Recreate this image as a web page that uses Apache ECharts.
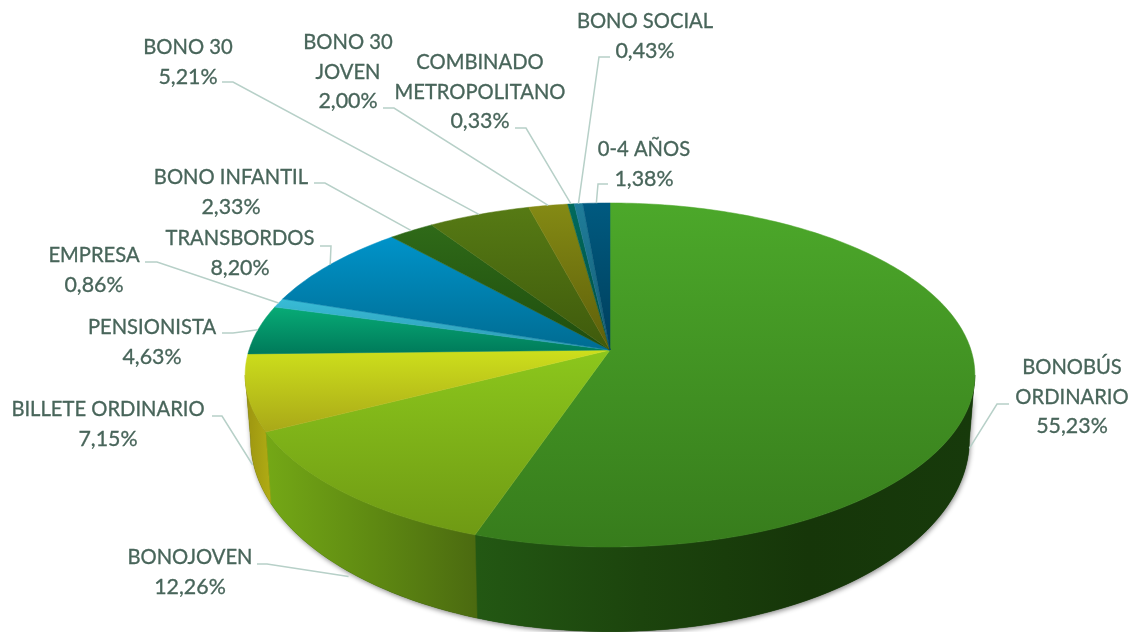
<!DOCTYPE html>
<html>
<head>
<meta charset="utf-8">
<style>
  html, body { margin: 0; padding: 0; background: #fff; }
  #main { width: 1137px; height: 632px; }
</style>
<script src="https://cdn.jsdelivr.net/npm/echarts@6/dist/echarts.min.js"></script>
</head>
<body>
<div id="main"></div>
<script>
// clockwise from 12 o'clock
var categories = ['BONOBÚS\nORDINARIO', 'BONOJOVEN', 'BILLETE ORDINARIO', 'PENSIONISTA', 'EMPRESA', 'TRANSBORDOS',
  'BONO INFANTIL', 'BONO 30', 'BONO 30\nJOVEN', 'COMBINADO\nMETROPOLITANO', 'BONO SOCIAL', '0-4 AÑOS'];
var shares = [55.23, 12.26, 7.15, 4.63, 0.86, 8.20, 2.33, 5.21, 2.00, 0.33, 0.43, 1.38];

// top face gradient, light to dark
var topColors = [
  ['#4ca82a', '#377c1c'], ['#8cc71c', '#6f9a14'], ['#cddf1c', '#a9a818'], ['#07ab76', '#007a5a'],
  ['#38bcd6', '#2e9ab5'], ['#0093c9', '#006c92'], ['#2f6a18', '#1f4d0e'], ['#567a14', '#3f5a0c'],
  ['#848a14', '#5e5f0a'], ['#006a5c', '#004f44'], ['#1f7d9a', '#155c74'], ['#005a80', '#003f5c']
];
// wall gradient, left to right (only the first three slices show a wall)
var wallColors = [
  ['#235813', '#1c440d', '#163609', '#173a0b'],
  ['#74a816', '#5f8a12', '#4b6a10'],
  ['#9c9410', '#b0ac14']
];

// label centre and the elbow of its leader line
var labelCenters = [[1072, 397], [190, 572], [108, 424], [152, 342], [94, 270], [240, 253],
  [231, 192], [188, 62], [348, 72], [480, 92], [645, 36], [644, 164]];
var leaderStarts = [[1009, 404], [257, 564], [212, 416], [222, 333], [145, 262], [320, 246],
  [314, 183], [222, 82], [383, 108], [515, 128], [610, 57], [608, 184]];
var leaderElbows = [[997, 404], [267, 564], [222, 416], [233, 333], [157, 262], [331, 246],
  [325, 183], [233, 82], [394, 108], [526, 128], [599, 57], [598, 184]];

// perspective disc
var cx = 610, cy = 350, radius = 361, foreY = 168.4, persp = 0.1453;
// lower rim: slightly narrower, and deeper at the front than at the sides
var wallDrop = 62, wallScaleX = 0.985, wallScaleY = 1.115;

var total = shares.reduce(function (a, b) { return a + b; }, 0);

function rim(deg) {
  var t = deg * Math.PI / 180;
  var X = Math.sin(t), Y = -Math.cos(t), d = 1 - persp * Y;
  return [cx + radius * X / d, cy + foreY * Y / d];
}
function drop(p) {
  return [cx + wallScaleX * (p[0] - cx), cy + wallDrop + wallScaleY * (p[1] - cy)];
}
function arc(a0, a1) {
  var n = Math.max(2, Math.ceil(Math.abs(a1 - a0))), pts = [];
  for (var i = 0; i <= n; i++) pts.push(rim(a0 + (a1 - a0) * i / n));
  return pts;
}
function sliceAngles(i) {
  var before = 0;
  for (var j = 0; j < i; j++) before += shares[j];
  return [before / total * 360, (before + shares[i]) / total * 360];
}
function stopsOf(colors) {
  return colors.map(function (c, i) { return { offset: i / (colors.length - 1), color: c }; });
}

// the rim is only seen from the front, between the two silhouette points
var wallFrom = Math.acos(-persp) * 180 / Math.PI, wallTo = 360 - wallFrom;

function wallPoints(a0, a1) {
  var upper = arc(a0, a1);
  return upper.concat(upper.map(drop).reverse());
}

// one soft shadow under the whole wall, so no seams show between slices
function renderShadow() {
  return {
    type: 'polygon',
    shape: { points: wallPoints(wallFrom, wallTo) },
    style: {
      fill: '#1a3e0c',
      shadowColor: 'rgba(0,0,0,0.45)', shadowBlur: 5, shadowOffsetX: 1, shadowOffsetY: 2
    }
  };
}

function renderWall(params) {
  var a = sliceAngles(params.dataIndex);
  var a0 = Math.max(a[0], wallFrom), a1 = Math.min(a[1], wallTo);
  if (a1 <= a0) return { type: 'group', children: [] };
  var pts = wallPoints(a0, a1);
  var xs = pts.map(function (p) { return p[0]; });
  var x0 = Math.min.apply(null, xs), x1 = Math.max.apply(null, xs);
  var grad = new echarts.graphic.LinearGradient(x0, 0, x1, 0, stopsOf(wallColors[params.dataIndex]), true);
  return {
    type: 'polygon',
    shape: { points: pts },
    style: { fill: grad, stroke: grad, lineWidth: 0.5 }
  };
}

function renderTop(params) {
  var a = sliceAngles(params.dataIndex);
  var pts = [[cx, cy]].concat(arc(a[0], a[1]));
  var ys = pts.map(function (p) { return p[1]; });
  var y0 = Math.min.apply(null, ys), y1 = Math.max.apply(null, ys);
  var grad = new echarts.graphic.LinearGradient(0, y0, 0, y1, stopsOf(topColors[params.dataIndex]), true);
  return {
    type: 'polygon',
    shape: { points: pts },
    style: { fill: grad, stroke: grad, lineWidth: 0.5 }
  };
}

function renderLabel(params, api) {
  var i = params.dataIndex;
  var a = sliceAngles(i), mid = (a[0] + a[1]) / 2;
  var end = rim(mid);
  if (mid > wallFrom && mid < wallTo) {
    // front slices point at the bottom of the wall rather than the top face
    var low = drop(end);
    end = [low[0], low[1] + 5];
  }
  var nameLines = categories[i].split('\n').map(function (s) { return '{n|' + s + '}'; });
  var pct = api.value(0).toFixed(2).replace('.', ',') + '%';
  return {
    type: 'group',
    children: [
      {
        type: 'polyline',
        shape: { points: [leaderStarts[i], leaderElbows[i], end] },
        style: { fill: null, stroke: '#b7d0c8', lineWidth: 1.5 }
      },
      {
        type: 'text',
        x: labelCenters[i][0],
        y: labelCenters[i][1],
        style: {
          text: nameLines.join('\n') + '\n{p|' + pct + '}',
          align: 'center',
          verticalAlign: 'middle',
          rich: {
            n: { fill: '#48655a', font: '20.2px Lato', lineHeight: 29.6, stroke: '#48655a', lineWidth: 0.3 },
            p: { fill: '#48655a', font: '21.4px Lato', lineHeight: 29.6, stroke: '#48655a', lineWidth: 0.3 }
          }
        }
      }
    ]
  };
}

var seriesData = shares.map(function (v) { return [v]; });
var chart = echarts.init(document.getElementById('main'));
chart.setOption({
  animation: false,
  backgroundColor: '#fff',
  series: [
    { type: 'custom', coordinateSystem: 'none', silent: true, clip: false, data: [[total]], renderItem: renderShadow },
    { type: 'custom', coordinateSystem: 'none', silent: true, clip: false, data: seriesData, renderItem: renderWall },
    { type: 'custom', coordinateSystem: 'none', silent: true, clip: false, data: seriesData, renderItem: renderTop },
    { type: 'custom', coordinateSystem: 'none', silent: true, clip: false, data: seriesData, renderItem: renderLabel }
  ]
});
</script>
</body>
</html>
